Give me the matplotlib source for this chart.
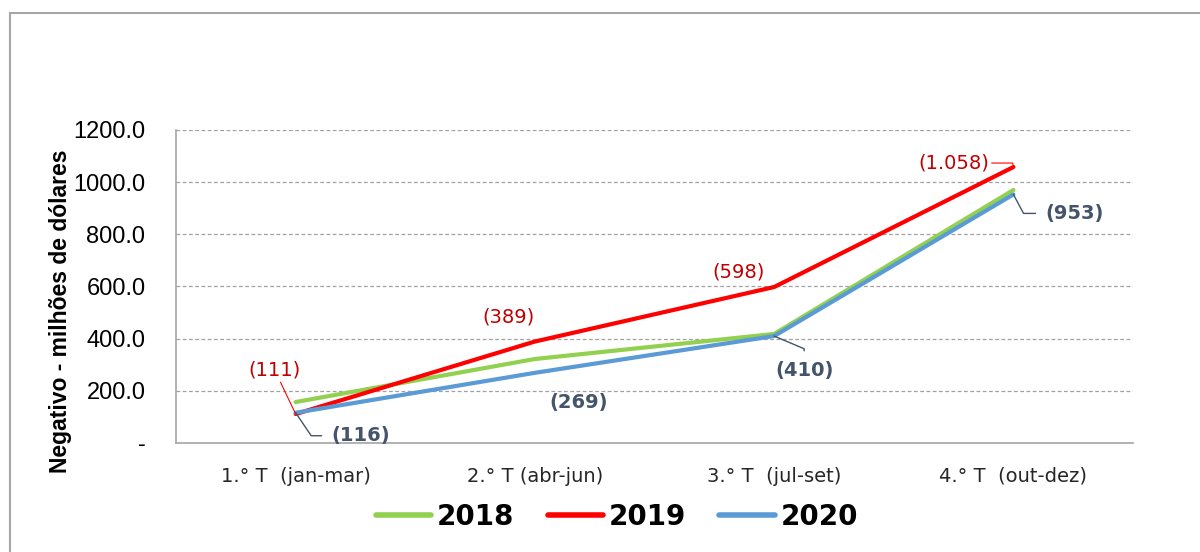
import numpy as np
import matplotlib
matplotlib.use("Agg")
import matplotlib.pyplot as plt
from matplotlib.patches import Rectangle

# data
quarters = ["1.° T  (jan-mar)", "2.° T (abr-jun)", "3.° T  (jul-set)", "4.° T  (out-dez)"]
v2018 = [157, 322, 418, 970]
v2019 = [111, 389, 598, 1058]
v2020 = [116, 269, 410, 953]
labels2019 = ["(111)", "(389)", "(598)", "(1.058)"]
labels2020 = ["(116)", "(269)", "(410)", "(953)"]
yticks = [0, 200, 400, 600, 800, 1000, 1200]

plt.rcParams['font.family'] = ['Liberation Sans', 'DejaVu Sans']

fig = plt.figure(figsize=(12, 5.52), dpi=100)
ax = fig.add_axes([0.1467, 0.1975, 0.7975, 0.567])

# outer frame of the chart area
fig.patches.append(Rectangle((10 / 1200, -0.1), 1.2, 1 - 13 / 552 + 0.1,
                             transform=fig.transFigure, fill=False,
                             edgecolor='#A6A6A6', lw=1.5))

x = np.arange(len(quarters))
ax.plot(x, v2018, color='#92D050', lw=3.0, label='2018', solid_capstyle='round')
ax.plot(x, v2019, color='#FF0000', lw=3.0, label='2019', solid_capstyle='round')
ax.plot(x, v2020, color='#5B9BD5', lw=3.0, label='2020', solid_capstyle='round')

ax.set_xlim(-0.5, len(quarters) - 0.5)
ax.set_ylim(0, 1200)
ax.set_yticks(yticks)
ax.set_yticklabels(['-'] + [f'{v:.1f}' for v in yticks[1:]], fontsize=17)
ax.set_xticks(x)
ax.set_xticklabels(quarters, fontsize=14, family=['DejaVu Sans'], color='#262626')
ax.tick_params(axis='y', length=0, pad=22)
ax.tick_params(axis='x', length=0, pad=17)

ax.grid(axis='y', linestyle=(0, (3, 2)), color='#A0A0A0', lw=0.9)
ax.set_axisbelow(True)
for s in ['top', 'right']:
    ax.spines[s].set_visible(False)
for s in ['left', 'bottom']:
    ax.spines[s].set_color('#A6A6A6')
    ax.spines[s].set_linewidth(1.2)

ax.set_ylabel('Negativo - milhões de dólares', fontsize=16.5, fontweight='bold')
ax.yaxis.set_label_coords(-0.109, 0.42)

# data labels (offsets in pixels) and leader line styles
off2019 = [(-21, 44), (-26, 25), (-36, 15), (-60, 4)]
off2020 = [(65, -23), (44, -30), (30, -34), (61, -19)]
lead2019 = ['arc3', None, None, 'angle,angleA=0,angleB=-80,rad=0']
lead2020 = ['angle,angleA=0,angleB=-56,rad=0', None,
            'angle,angleA=90,angleB=-23,rad=0', 'angle,angleA=0,angleB=-62,rad=0']

for i in range(len(quarters)):
    ap = None
    if lead2019[i]:
        ap = dict(arrowstyle='-', color='#FF0000', lw=0.8, shrinkA=0, shrinkB=0,
                  connectionstyle=lead2019[i])
    ax.annotate(labels2019[i], xy=(x[i], v2019[i]), xytext=off2019[i],
                textcoords='offset pixels', ha='center', va='center',
                fontsize=14, color='#C00000', family=['DejaVu Sans'],
                arrowprops=ap)
    ap = None
    if lead2020[i]:
        ap = dict(arrowstyle='-', color='#44546A', lw=1.0, shrinkA=5, shrinkB=0,
                  connectionstyle=lead2020[i])
    ax.annotate(labels2020[i], xy=(x[i], v2020[i]), xytext=off2020[i],
                textcoords='offset pixels', ha='center', va='center',
                fontsize=14, color='#44546A', fontweight='bold',
                family=['DejaVu Sans'], arrowprops=ap)

leg = fig.legend(loc='center', bbox_to_anchor=(0.514, 1 - 517 / 552), ncol=3,
                 frameon=False, prop=dict(size=20, weight='bold', family='DejaVu Sans'),
                 handlelength=2.0, handletextpad=0.2, columnspacing=1.2)
for h in leg.legend_handles:
    h.set_linewidth(4)

fig.savefig('out.png', dpi=100)
